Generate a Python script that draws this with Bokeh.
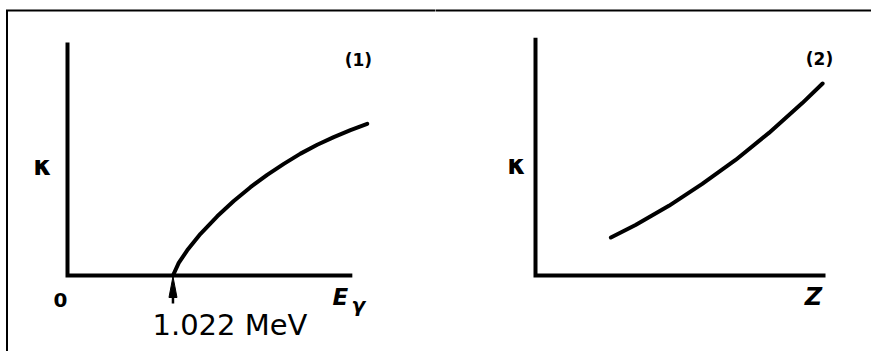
from bokeh.plotting import figure
from bokeh.layouts import row
from bokeh.models import Range1d
from bokeh.core.properties import value
from bokeh.embed import file_html
from bokeh.resources import INLINE

# Panel (1): pair-production coefficient kappa against photon energy (MeV)
threshold_mev = 1.022
energy_mev = [1.022, 1.078, 1.160, 1.289, 1.451, 1.611, 1.773, 1.935,
              2.096, 2.258, 2.420, 2.580, 2.742, 2.904]
kappa_vs_energy = [0.0, 0.054, 0.108, 0.179, 0.254, 0.320, 0.379, 0.432,
                   0.479, 0.523, 0.561, 0.594, 0.624, 0.651]
energy_axis_max = 2.76
kappa_axis_max_1 = 1.0

# Panel (2): kappa against atomic number Z
atomic_number = [26, 34.5, 46, 57.5, 69, 80.5, 92, 99]
kappa_vs_z = [0.163, 0.217, 0.299, 0.393, 0.496, 0.612, 0.740, 0.824]
z_axis_max = 100
kappa_axis_max_2 = 1.02

panel_tags = ["(1)", "(2)"]
kappa_label = "κ"
threshold_label = "1.022 MeV"

FONT = value("DejaVu Sans")
H = 351


class Panel:
    """Figure whose frame fills the canvas; the data origin sits at pixel (ox, oy)."""

    def __init__(self, width, ox, oy, px_x, px_k):
        self.ox, self.oy, self.px_x, self.px_k = ox, oy, px_x, px_k
        self.p = figure(width=width, height=H,
                        x_range=Range1d(-ox / px_x, (width - ox) / px_x),
                        y_range=Range1d(-(H - oy) / px_k, oy / px_k),
                        x_axis_type=None, y_axis_type=None,
                        toolbar_location=None, output_backend="svg",
                        min_border=0, outline_line_color=None,
                        background_fill_color="white", border_fill_color="white")

    def dx(self, px):
        return (px - self.ox) / self.px_x

    def dy(self, py):
        return (self.oy - py) / self.px_k

    def frame_rule(self, xs_px, ys_px):
        # thin rule of the surrounding frame, placed in canvas pixels
        self.p.line([self.dx(v) for v in xs_px], [self.dy(v) for v in ys_px],
                    line_width=2, line_color="black", line_join="miter")

    def text(self, x, y, txt, size, ox, oy, style="bold", baseline="middle"):
        self.p.text(x=[x], y=[y], text=[txt], x_offset=ox, y_offset=oy,
                    text_font=FONT, text_font_style=style, text_font_size=size,
                    text_align="center", text_baseline=baseline, text_color="black")


# ---- panel 1 ----
PX_E, PX_K = 103.2, 233.0
a = Panel(435, 67, 275, PX_E, PX_K)
p1 = a.p
a.frame_rule([6.5, 6.5, 440], [360, 10, 10])
p1.line([0, 0, energy_axis_max], [kappa_axis_max_1, 0, 0], line_width=4,
        line_color="black", line_join="miter", line_cap="butt")
p1.line(energy_mev, kappa_vs_energy, line_width=4, line_color="black",
        line_cap="round", line_join="round")
# threshold arrow pointing up at the axis
p1.patch(x=[threshold_mev - 4 / PX_E, threshold_mev, threshold_mev + 4 / PX_E],
         y=[-22 / PX_K, -1 / PX_K, -22 / PX_K], fill_color="black", line_color="black")
p1.segment(x0=[threshold_mev], y0=[-21 / PX_K], x1=[threshold_mev], y1=[-28 / PX_K],
           line_width=2.5, line_color="black")
a.text(0, 0.47, kappa_label, "26px", -25, 0)
a.text(0, 0, "0", "20px", -7, 24)
a.text(energy_axis_max, 0, "E", "23px", -12, 21, style="bold italic")
a.text(energy_axis_max, 0, "γ", "20px", 6, 29, style="bold italic", baseline="alphabetic")
a.text(energy_axis_max, kappa_axis_max_1, panel_tags[0], "17px", 6, 17)
a.text(threshold_mev, 0, threshold_label, "29px", 57, 49, style="normal")

# ---- panel 2 ----
PX_Z = 2.9
b = Panel(436, 100, 275, PX_Z, PX_K)
p2 = b.p
b.frame_rule([-10, 440], [10, 10])
p2.line([0, 0, z_axis_max], [kappa_axis_max_2, 0, 0], line_width=4,
        line_color="black", line_join="miter", line_cap="butt")
p2.line(atomic_number, kappa_vs_z, line_width=4, line_color="black",
        line_cap="round", line_join="round")
b.text(0, 0.476, kappa_label, "26px", -19, 0)
b.text(z_axis_max, 0, "Z", "24px", -12, 21, style="bold italic")
b.text(z_axis_max, kappa_axis_max_2, panel_tags[1], "17px", -6, 21)

layout = row(p1, p2, spacing=0)
open("out.html", "w").write(file_html(layout, INLINE))
